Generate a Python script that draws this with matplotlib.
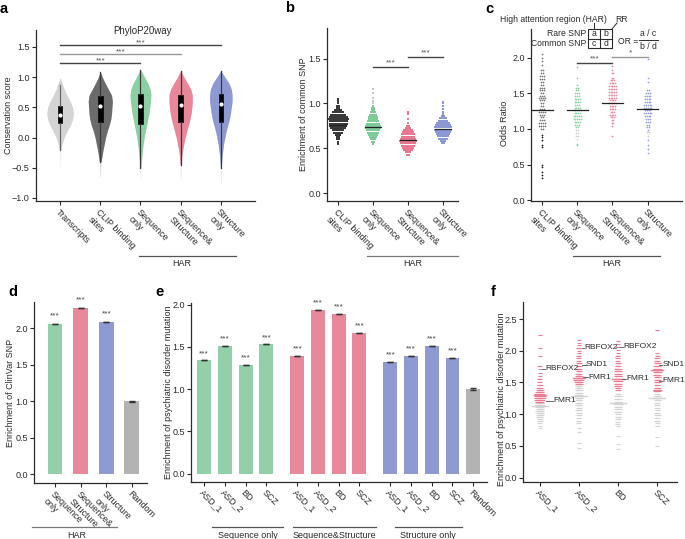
import matplotlib
matplotlib.use("Agg")
import matplotlib.pyplot as plt
from matplotlib.lines import Line2D
from matplotlib.patches import Rectangle
import numpy as np

plt.rcParams["font.family"] = ["Liberation Sans", "DejaVu Sans"]

W, H = 685, 539
GREEN = "#93CFA8"
PINK = "#E8899B"
BLUE = "#8F9AD3"
GREY = "#B3B3B3"
DARK = "#2b2b2b"

# ---------------- data ----------------
# a: violin outlines (value levels, half-widths)
a_labels = ["Transcripts", "CLIP binding\nsites", "Sequence\nonly", "Sequence&\nStructure", "Structure\nonly"]
a_colors = ["#D4D4D4", "#6B6B6B", "#8CCFA3", "#E8879A", "#8E99D3"]
a_lev_tr = [-0.5, -0.35, -0.2, -0.1, 0.0, 0.1, 0.2, 0.3, 0.4, 0.5, 0.6, 0.7, 0.8, 0.9, 0.98]
a_wid_tr = [0.005, 0.01, 0.02, 0.05, 0.1, 0.17, 0.25, 0.31, 0.33, 0.31, 0.25, 0.17, 0.1, 0.05, 0.005]
a_lev_clip = [-0.65, -0.5, -0.4, -0.3, -0.2, -0.1, 0.0, 0.1, 0.2, 0.3, 0.4, 0.5, 0.6, 0.7, 0.8, 0.9, 1.0, 1.08]
a_wid_clip = [0.005, 0.01, 0.02, 0.045, 0.07, 0.1, 0.13, 0.17, 0.22, 0.26, 0.28, 0.29, 0.3, 0.28, 0.2, 0.12, 0.05, 0.005]
a_lev_seq = [-0.7, -0.5, -0.4, -0.3, -0.2, -0.1, 0.0, 0.1, 0.2, 0.3, 0.4, 0.5, 0.6, 0.7, 0.8, 0.9, 1.0, 1.12]
a_wid_seq = [0.005, 0.01, 0.02, 0.035, 0.05, 0.07, 0.09, 0.12, 0.15, 0.18, 0.21, 0.23, 0.25, 0.26, 0.24, 0.18, 0.1, 0.005]
a_lev_ss = [-0.7, -0.5, -0.45, -0.3, -0.2, -0.1, 0.0, 0.1, 0.2, 0.3, 0.4, 0.5, 0.6, 0.7, 0.8, 0.9, 1.0, 1.1]
a_wid_ss = [0.005, 0.01, 0.015, 0.03, 0.05, 0.08, 0.11, 0.15, 0.19, 0.23, 0.26, 0.28, 0.29, 0.29, 0.25, 0.17, 0.08, 0.005]
a_lev_st = [-0.75, -0.5, -0.45, -0.3, -0.2, -0.1, 0.0, 0.1, 0.2, 0.3, 0.4, 0.5, 0.6, 0.7, 0.8, 0.9, 1.0, 1.1]
a_wid_st = [0.005, 0.01, 0.015, 0.03, 0.05, 0.07, 0.1, 0.13, 0.17, 0.21, 0.24, 0.26, 0.28, 0.28, 0.26, 0.2, 0.1, 0.005]
a_solid_from = [-0.2, -0.4, -0.5, -0.45, -0.5]
a_whislo = [-0.2, -0.4, -0.5, -0.45, -0.5]
a_q1 = [0.24, 0.26, 0.23, 0.25, 0.25]
a_med = [0.37, 0.53, 0.52, 0.54, 0.55]
a_q3 = [0.53, 0.69, 0.72, 0.70, 0.72]
a_whishi = [0.87, 1.08, 1.12, 1.10, 1.10]

# b: common SNP enrichment dot plots (value level, dots in row)
bc_labels = ["CLIP binding\nsites", "Sequence\nonly", "Sequence&\nStructure", "Structure\nonly"]
b_clip_y = [0.55, 0.575, 0.6, 0.625, 0.65, 0.675, 0.7, 0.725, 0.75, 0.775, 0.8, 0.825, 0.85, 0.875, 0.9, 0.925, 0.95, 0.975, 1.0, 1.025, 1.05]
b_clip_n = [1, 1, 2, 2, 3, 5, 6, 8, 9, 10, 10, 11, 10, 8, 6, 4, 2, 2, 1, 1, 1]
b_seq_y = [0.55, 0.575, 0.6, 0.625, 0.65, 0.675, 0.7, 0.725, 0.75, 0.775, 0.8, 0.825, 0.85, 0.875, 0.9, 0.925, 0.95, 0.975]
b_seq_n = [1, 2, 3, 4, 5, 6, 7, 8, 8, 7, 6, 5, 5, 4, 3, 2, 2, 1]
b_ss_y = [0.43, 0.455, 0.48, 0.505, 0.53, 0.555, 0.58, 0.605, 0.63, 0.655, 0.68, 0.705, 0.73, 0.755, 0.78, 0.83, 0.88, 0.9]
b_ss_n = [2, 3, 5, 6, 7, 8, 9, 8, 7, 7, 6, 5, 3, 2, 1, 1, 1, 1]
b_st_y = [0.56, 0.585, 0.61, 0.635, 0.66, 0.685, 0.71, 0.735, 0.76, 0.785, 0.81, 0.835, 0.86, 0.885, 0.91, 0.94, 0.97, 1.0, 1.02]
b_st_n = [2, 3, 5, 6, 7, 8, 9, 9, 8, 7, 5, 4, 2, 1, 1, 1, 1, 1, 1]
b_seq_out = [1.0, 1.03, 1.06, 1.12, 1.16]
b_lines = [0.76, 0.74, 0.59, 0.72]

# c: odds ratio dot plots
c_clip_y = [2.05, 2.0, 1.95, 1.9, 1.83, 1.78, 1.74, 1.7, 1.66, 1.62, 1.58, 1.54, 1.5, 1.46, 1.43, 1.4, 1.36, 1.32, 1.28, 1.24, 1.2, 1.16, 1.12, 1.08, 1.04, 1.0]
c_clip_n = [1, 1, 1, 1, 2, 2, 3, 3, 2, 2, 3, 3, 2, 3, 4, 3, 2, 2, 3, 4, 3, 2, 3, 4, 4, 2]
c_clip_low = [0.92, 0.88, 0.84, 0.78, 0.74, 0.5, 0.46, 0.4, 0.35, 0.31]
c_seq_y = [1.87, 1.72, 1.62, 1.58, 1.54, 1.5, 1.46, 1.42, 1.38, 1.34, 1.3, 1.26, 1.22, 1.18, 1.14, 1.1, 1.06, 1.02, 0.79, 0.77]
c_seq_n = [1, 1, 1, 2, 2, 3, 3, 4, 4, 3, 4, 5, 4, 5, 5, 4, 3, 2, 1, 1]
c_seq_grey_y = [0.98, 0.94, 0.9, 0.86]
c_seq_grey_n = [2, 2, 2, 1]
c_ss_y = [1.88, 1.83, 1.78, 1.72, 1.68, 1.64, 1.6, 1.56, 1.52, 1.48, 1.44, 1.4, 1.36, 1.32, 1.28, 1.24, 1.2, 1.16, 1.12, 1.08, 1.04, 0.9]
c_ss_n = [1, 1, 2, 2, 3, 4, 5, 5, 5, 5, 5, 4, 5, 4, 4, 3, 4, 3, 2, 2, 1, 1]
c_st_y = [1.98, 1.72, 1.66, 1.55, 1.5, 1.46, 1.42, 1.38, 1.34, 1.3, 1.26, 1.22, 1.18, 1.14, 1.1, 1.06, 1.02, 0.98, 0.85, 0.78, 0.72, 0.66]
c_st_n = [1, 1, 1, 2, 3, 4, 4, 4, 5, 5, 4, 5, 4, 3, 3, 2, 2, 1, 1, 1, 1, 1]
c_st_grey_y = [0.95, 0.9]
c_st_grey_n = [2, 1]
c_lines = [1.27, 1.27, 1.37, 1.28]

# d: ClinVar enrichment
d_labels = ["Sequence\nonly", "Sequence&\nStructure", "Structure\nonly", "Random"]
d_values = [2.06, 2.28, 2.09, 1.0]
d_err = [0, 0, 0, 0.01]
d_stars = ["***", "***", "***", ""]

# e: psychiatric disorder enrichment
e_labels = ["ASD_1", "ASD_2", "BD", "SCZ"] * 3 + ["Random"]
e_values = [1.34, 1.51, 1.29, 1.53, 1.39, 1.94, 1.89, 1.67, 1.32, 1.39, 1.51, 1.37, 1.0]
e_groups = ["Sequence only", "Sequence&Structure", "Structure only"]
e_stars = ["***"] * 12 + [""]

# f: per RBP enrichment (pink = significant, grey = rest)
f_labels = ["ASD_1", "ASD_2", "BD", "SCZ"]
f_pink_y = [
    [2.25, 2.05, 1.92, 1.76, 1.72, 1.65, 1.6, 1.55, 1.5, 1.46, 1.42, 1.38, 1.35, 1.32, 1.29, 1.26, 1.23, 1.2],
    [2.17, 2.13, 2.09, 2.05, 2.0, 1.96, 1.92, 1.88, 1.84, 1.8, 1.76, 1.72, 1.68, 1.64, 1.6, 1.57, 1.54, 1.51, 1.48],
    [2.15, 2.1, 2.06, 2.02, 1.96, 1.92, 1.88, 1.84, 1.8, 1.76, 1.72, 1.68, 1.64, 1.6, 1.56, 1.52, 1.48, 1.44, 1.41, 1.38],
    [2.33, 1.96, 1.92, 1.88, 1.84, 1.8, 1.76, 1.72, 1.69, 1.66, 1.62, 1.58, 1.54, 1.5, 1.46, 1.42, 1.38, 1.36],
]
f_pink_n = [
    [1, 1, 1, 2, 1, 1, 1, 2, 2, 3, 4, 5, 6, 8, 9, 9, 8, 6],
    [1, 1, 1, 2, 1, 1, 2, 2, 2, 3, 3, 4, 3, 4, 5, 7, 8, 6, 5],
    [1, 1, 2, 1, 1, 2, 2, 2, 3, 3, 4, 4, 4, 5, 6, 6, 5, 4, 3, 3],
    [1, 1, 2, 3, 3, 4, 5, 6, 8, 6, 5, 4, 4, 4, 3, 4, 6, 5],
]
f_grey_y = [
    [1.17, 1.14, 1.11, 1.08, 1.05, 1.02, 0.99, 0.96, 0.93, 0.9, 0.86, 0.82, 0.78],
    [1.45, 1.42, 1.38, 1.34, 1.31, 1.28, 1.25, 1.22, 1.18, 1.14, 1.1, 1.06, 1.02, 0.98, 0.94, 0.9, 0.86, 0.78, 0.72, 0.54, 0.46],
    [1.32, 1.28, 1.24, 1.2, 1.16, 1.12, 1.08, 1.04, 1.0, 0.96, 0.92, 0.88, 0.84, 0.82, 0.66, 0.53, 0.45],
    [1.32, 1.28, 1.25, 1.22, 1.18, 1.14, 1.1, 1.06, 1.02, 0.98, 0.94, 0.9, 0.86, 0.82, 0.64, 0.5],
]
f_grey_n = [
    [6, 7, 6, 5, 6, 5, 5, 4, 3, 3, 2, 1, 1],
    [4, 4, 5, 5, 6, 8, 5, 4, 4, 4, 3, 4, 3, 3, 2, 2, 2, 1, 1, 1, 1],
    [3, 4, 4, 5, 6, 5, 4, 4, 3, 3, 3, 2, 2, 1, 1, 1, 1],
    [3, 4, 7, 4, 3, 3, 3, 2, 3, 4, 3, 3, 2, 2, 1, 1],
]
f_grey_lines = [1.13, 1.29, 1.17, 1.26]
f_pink_lines = [1.30, 1.57, 1.55, 1.70]
f_gene_cat = [0, 0, 1, 1, 1, 2, 2, 3, 3]
f_gene_val = [1.72, 1.21, 2.05, 1.78, 1.58, 2.06, 1.56, 1.78, 1.53]
f_gene_name = ["RBFOX2", "FMR1", "RBFOX2", "SND1", "FMR1", "RBFOX2", "FMR1", "SND1", "FMR1"]

# ---------------- helpers ----------------
fig = plt.figure(figsize=(W / 100, H / 100), dpi=100)


def add_ax(x0, y0, x1, y1):
    ax = fig.add_axes([x0 / W, 1 - y1 / H, (x1 - x0) / W, (y1 - y0) / H])
    for s in ["top", "right"]:
        ax.spines[s].set_visible(False)
    for s in ["left", "bottom"]:
        ax.spines[s].set_color(DARK)
        ax.spines[s].set_linewidth(0.9)
    ax.tick_params(length=3, width=0.8, color=DARK, labelsize=6.5, labelcolor=DARK, pad=1.5)
    return ax


def ftext(x, y, s, **kw):
    kw.setdefault("fontsize", 6.5)
    kw.setdefault("color", DARK)
    fig.text(x / W, 1 - y / H, s, **kw)


def fline(x0, y0, x1, y1, color="#555555", lw=0.9):
    fig.add_artist(Line2D([x0 / W, x1 / W], [1 - y0 / H, 1 - y1 / H], color=color, lw=lw))


def ylab(ax, text, xc, left, width, yfrac=0.5):
    ax.set_ylabel(text, fontsize=6.5, color=DARK)
    ax.yaxis.set_label_coords((xc + 4 - left) / width, yfrac)


def xlabels(ax, pos, labels):
    ax.set_xticks(pos)
    ax.set_xticklabels(labels, rotation=-45, ha="left", va="top", rotation_mode="anchor", fontsize=6.5)


def swarm(center, levels, counts, step):
    xs, ys = [], []
    for y, n in zip(levels, counts):
        for k in range(n):
            xs.append(center + (k - (n - 1) / 2) * step)
            ys.append(y)
    return xs, ys


def sig(ax, x0, x1, y, stars, color="#444444", dy=1.0):
    ax.plot([x0, x1], [y, y], color=color, lw=1)
    ax.annotate(stars, ((x0 + x1) / 2, y), xytext=(0, dy), textcoords="offset points",
                ha="center", va="center", fontsize=6, color="#555555")


# panel letters
for lab, x, y in [("a", 4, 9), ("b", 290, 8), ("c", 489, 9), ("d", 13, 292), ("e", 160, 292), ("f", 493, 292)]:
    ftext(x, y, lab, fontsize=10.5, fontweight="bold", color="black", ha="center", va="center")

# ---------------- a ----------------
ax = add_ax(36, 30, 255, 201)
profiles = [(a_lev_tr, a_wid_tr), (a_lev_clip, a_wid_clip), (a_lev_seq, a_wid_seq),
            (a_lev_ss, a_wid_ss), (a_lev_st, a_wid_st)]
for i, (lev, wid) in enumerate(profiles):
    lev = np.array(lev)
    wid = np.array(wid)
    ax.fill_betweenx(lev, i - wid, i + wid, color=a_colors[i], alpha=0.3, lw=0)
    m = lev >= a_solid_from[i]
    ax.fill_betweenx(lev[m], i - wid[m], i + wid[m], color=a_colors[i], lw=0)
stats = [dict(whislo=a_whislo[i], q1=a_q1[i], med=a_med[i], q3=a_q3[i], whishi=a_whishi[i]) for i in range(5)]
bp = ax.bxp(stats, positions=range(5), widths=0.11, patch_artist=True, showfliers=False, showcaps=False,
            boxprops=dict(facecolor="black", edgecolor="black", lw=0.5),
            whiskerprops=dict(color="#3a3a3a", lw=0.9), medianprops=dict(visible=False), manage_ticks=False)
for w in bp["whiskers"][:2]:
    w.set_color("#666666")
ax.scatter(range(5), a_med, s=9, color="white", zorder=5, lw=0)
sig(ax, 0, 2, 1.24, "***", color="#444444", dy=1.5)
sig(ax, 0, 3, 1.39, "***", color="#999999", dy=1.5)
sig(ax, 0, 4, 1.54, "***", color="#444444", dy=1.5)
ax.text(2.05, 1.77, "PhyloP20way", ha="center", va="center", fontsize=7, color=DARK)
ax.set_xlim(-0.6, 4.85)
ax.set_ylim(-1.05, 1.78)
ax.set_yticks([-1.0, -0.5, 0.0, 0.5, 1.0, 1.5])
ax.set_yticklabels(["\u22121.0", "\u22120.5", "0.0", "0.5", "1.0", "1.5"])
xlabels(ax, range(5), a_labels)
ylab(ax, "Conservation score", 9.3, 36, 219)
fline(139, 256, 236, 256)
ftext(182, 263, "HAR", ha="center", va="center")

# ---------------- b ----------------
ax = add_ax(327, 28, 458, 201)
b_sets = [(b_clip_y, b_clip_n, "#3a3a3a"), (b_seq_y, b_seq_n, "#7FCB98"),
          (b_ss_y, b_ss_n, "#E8788F"), (b_st_y, b_st_n, "#8C98D6")]
for i, (ly, ln, col) in enumerate(b_sets):
    xs, ys = swarm(i, ly, ln, 0.055)
    ax.scatter(xs, ys, s=2.0, marker="s", color=col, lw=0)
    ax.plot([i - 0.22, i + 0.22], [b_lines[i], b_lines[i]], color="#222222", lw=0.9)
ax.scatter([1] * len(b_seq_out), b_seq_out, s=2.0, marker="s", color="#C8C8C8", lw=0)
sig(ax, 1, 2, 1.41, "***", dy=2.5)
sig(ax, 2, 3, 1.52, "***", dy=2.5)
ax.set_xlim(-0.32, 3.43)
ax.set_ylim(-0.085, 1.84)
ax.set_yticks([0.0, 0.5, 1.0, 1.5])
xlabels(ax, range(4), bc_labels)
ylab(ax, "Enrichment of common SNP", 304, 327, 131)
fline(367, 256, 458, 256, color="#777777")
ftext(413, 263, "HAR", ha="center", va="center")

# ---------------- c ----------------
ax = add_ax(531, 29, 682, 201)
c_step = 0.05
xs, ys = swarm(0, c_clip_y, c_clip_n, c_step)
ax.scatter(xs, ys, s=3, marker="+", color="#7a7a7a", lw=0.5)
ax.scatter([0] * len(c_clip_low), c_clip_low, s=3, marker="+", color="#222222", lw=0.5)
c_sets = [(1, c_seq_y, c_seq_n, "#8ED3A6"), (2, c_ss_y, c_ss_n, "#EC8CA0"), (3, c_st_y, c_st_n, "#97A2DB")]
for i, ly, ln, col in c_sets:
    xs, ys = swarm(i, ly, ln, c_step)
    ax.scatter(xs, ys, s=3, marker="+", color=col, lw=0.5)
for i, ly, ln in [(1, c_seq_grey_y, c_seq_grey_n), (3, c_st_grey_y, c_st_grey_n)]:
    xs, ys = swarm(i, ly, ln, c_step)
    ax.scatter(xs, ys, s=3, marker="+", color="#CFCFCF", lw=0.5)
for i in range(4):
    ax.plot([i - 0.3, i + 0.3], [c_lines[i], c_lines[i]], color="#222222", lw=0.9)
sig(ax, 1, 2, 1.93, "***", dy=2.5)
sig(ax, 2, 3, 2.01, "*", color="#999999", dy=2.5)
ax.set_xlim(-0.31, 3.97)
ax.set_ylim(-0.01, 2.4)
ax.set_yticks([0.0, 0.5, 1.0, 1.5, 2.0])
xlabels(ax, range(4), bc_labels)
ylab(ax, "Odds Ratio", 505, 531, 151, 0.45)
fline(573, 256, 660, 256)
ftext(612, 263, "HAR", ha="center", va="center")
# contingency header
HF = 6.2
ftext(553, 19, "High attention region (HAR)", fontsize=HF, ha="center", va="center")
ftext(622, 19, "RR", fontsize=HF, ha="center", va="center")
fline(612, 29, 617, 23, color=DARK, lw=0.7)
fline(594, 23, 594, 29, color=DARK, lw=0.7)
fig.add_artist(Rectangle((588 / W, 1 - 48 / H), 24 / W, 19 / H, fill=False, ec=DARK, lw=0.8))
fline(600, 29, 600, 48, color=DARK, lw=0.8)
fline(588, 38.5, 612, 38.5, color=DARK, lw=0.8)
for s, x, y in [("a", 594, 33.7), ("b", 606, 33.7), ("c", 594, 43.3), ("d", 606, 43.3)]:
    ftext(x, y, s, fontsize=HF, ha="center", va="center")
ftext(586, 33.7, "Rare SNP", fontsize=HF, ha="right", va="center")
ftext(586, 43.3, "Common SNP", fontsize=HF, ha="right", va="center")
ftext(618, 41, "OR =", fontsize=HF, ha="left", va="center")
ftext(648, 34, "a / c", fontsize=HF, ha="center", va="center")
fline(639, 40, 658, 40, color=DARK, lw=0.7)
ftext(648, 46.5, "b / d", fontsize=HF, ha="center", va="center")

# ---------------- d ----------------
ax = add_ax(34, 302, 147, 483)
d_cols = [GREEN, PINK, BLUE, GREY]
ax.bar(range(4), d_values, width=0.58, color=d_cols, yerr=d_err,
       error_kw=dict(ecolor="#333333", lw=0.6, capsize=2.5))
for i, v in enumerate(d_values):
    if d_stars[i]:
        ax.annotate(d_stars[i], (i, v), xytext=(0, 5.5), textcoords="offset points",
                    ha="center", va="center", fontsize=6, color="#444444")
ax.set_xlim(-0.82, 3.59)
ax.set_ylim(-0.12, 2.36)
ax.set_yticks([0.0, 0.5, 1.0, 1.5, 2.0])
xlabels(ax, range(4), d_labels)
ylab(ax, "Enrichment of ClinVar SNP", 11.5, 34, 113)
fline(32, 527, 117, 527, color="#777777")
ftext(77, 535, "HAR", ha="center", va="center")

# ---------------- e ----------------
ax = add_ax(191, 303, 487, 482)
e_pos = [0, 1, 2, 3, 4.5, 5.5, 6.5, 7.5, 9, 10, 11, 12, 13]
e_cols = [GREEN] * 4 + [PINK] * 4 + [BLUE] * 4 + [GREY]
e_err = [0] * 12 + [0.01]
ax.bar(e_pos, e_values, width=0.67, color=e_cols, yerr=e_err,
       error_kw=dict(ecolor="#333333", lw=0.6, capsize=2.5))
for p, v, s in zip(e_pos, e_values, e_stars):
    if s:
        ax.annotate(s, (p, v), xytext=(0, 5), textcoords="offset points",
                    ha="center", va="center", fontsize=6, color="#444444")
ax.set_xlim(-0.64, 13.67)
ax.set_ylim(-0.1, 2.02)
ax.set_yticks([0.0, 0.5, 1.0, 1.5, 2.0])
xlabels(ax, e_pos, e_labels)
ylab(ax, "Enrichment of psychiatric disorder mutation", 169.3, 191, 296)
for name, x0, x1 in zip(e_groups, [211.7, 292.7, 395], [283.3, 376, 461.7]):
    fline(x0, 527, x1, 527, color="#555555")
    ftext((x0 + x1) / 2, 535, name, ha="center", va="center")

# ---------------- f ----------------
ax = add_ax(523, 302, 677, 482)
f_step = 0.026
for i in range(4):
    xs, ys = swarm(i, f_grey_y[i], f_grey_n[i], f_step)
    ax.scatter(xs, ys, s=5, marker="_", color="#D3D3D3", lw=0.8)
    ax.plot([i - 0.2, i + 0.2], [f_grey_lines[i]] * 2, color="#D3D3D3", lw=1)
    xs, ys = swarm(i, f_pink_y[i], f_pink_n[i], f_step)
    ax.scatter(xs, ys, s=5, marker="_", color="#EC7C92", lw=0.8)
    ax.plot([i - 0.15, i + 0.15], [f_pink_lines[i]] * 2, color="#EC7C92", lw=1)
label_dx = [(0.06, 0.15), (0.17, 0.34), (0.07, 0.15), (0.07, 0.18), (0.1, 0.25),
            (0.06, 0.15), (0.1, 0.22), (0.06, 0.13), (0.06, 0.13)]
for c, v, name, (d0, d1) in zip(f_gene_cat, f_gene_val, f_gene_name, label_dx):
    ax.plot([c + d0, c + d1 - 0.01], [v, v], color="#555555", lw=0.6)
    ax.text(c + d1, v, name, ha="left", va="center", fontsize=6, color=DARK, clip_on=False)
ax.set_xlim(-0.43, 3.51)
ax.set_ylim(-0.07, 2.77)
ax.set_yticks([0.0, 0.5, 1.0, 1.5, 2.0, 2.5])
xlabels(ax, range(4), f_labels)
ylab(ax, "Enrichment of psychiatric disorder mutation", 501.7, 523, 154, 0.46)

fig.savefig("out.png", dpi=100)
